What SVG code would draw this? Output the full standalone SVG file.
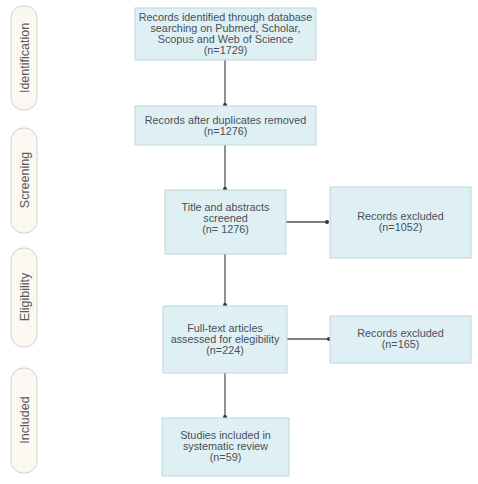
<svg xmlns="http://www.w3.org/2000/svg" width="478" height="484" viewBox="0 0 478 484">
<defs>
<style>
.box{fill:#dff0f5;stroke:#bcd6de;stroke-width:1}
.pill{fill:#fbf7f1;stroke:#d6d2cc;stroke-width:1}
.t{font-family:"Liberation Sans","DejaVu Sans",sans-serif;font-size:10.8px;fill:#4a4f55;text-anchor:middle}
.s{font-family:"Liberation Sans","DejaVu Sans",sans-serif;font-size:12.5px;fill:#5a5a5a;text-anchor:middle}
.c{stroke:#555;stroke-width:1.3;fill:none;marker-end:url(#dot)}
</style>
<marker id="dot" viewBox="0 0 6 6" refX="3" refY="3" markerWidth="4" markerHeight="4" markerUnits="userSpaceOnUse"><circle cx="3" cy="3" r="3" fill="#333"/></marker>
</defs>
<rect width="478" height="484" fill="#ffffff"/>
<g id="stages">
<g id="stage-identification"><rect class="pill" x="11" y="6" width="26" height="104" rx="12"/><text class="s" transform="translate(28.5,58) rotate(-90)">Identification</text></g>
<g id="stage-screening"><rect class="pill" x="11" y="128" width="26" height="105" rx="12"/><text class="s" transform="translate(28.5,180) rotate(-90)">Screening</text></g>
<g id="stage-eligibility"><rect class="pill" x="11" y="248" width="26" height="99" rx="12"/><text class="s" transform="translate(28.5,297) rotate(-90)">Eligibility</text></g>
<g id="stage-included"><rect class="pill" x="11" y="368" width="26" height="105" rx="12"/><text class="s" transform="translate(28.5,420) rotate(-90)">Included</text></g>
</g>
<g id="connectors">
<line class="c" x1="225" y1="60" x2="225" y2="105"/>
<line class="c" x1="225" y1="145" x2="225" y2="189"/>
<line class="c" x1="225" y1="254" x2="225" y2="305"/>
<line class="c" x1="225" y1="373" x2="225" y2="417"/>
<line class="c" x1="286" y1="222" x2="327" y2="222"/>
<line class="c" x1="287" y1="339" x2="329" y2="339"/>
</g>
<g id="n1"><rect class="box" x="135" y="8" width="181" height="52"/>
<text class="t" x="225.5" y="21">Records identified through database</text>
<text class="t" x="225.5" y="32">searching on Pubmed, Scholar,</text>
<text class="t" x="225.5" y="43">Scopus and Web of Science</text>
<text class="t" x="225.5" y="54">(n=1729)</text></g>
<g id="n2"><rect class="box" x="135" y="106" width="181" height="39"/>
<text class="t" x="225.5" y="124">Records after duplicates removed</text>
<text class="t" x="225.5" y="135">(n=1276)</text></g>
<g id="n3"><rect class="box" x="165" y="190" width="121" height="64"/>
<text class="t" x="225.5" y="211">Title and abstracts</text>
<text class="t" x="225.5" y="222">screened</text>
<text class="t" x="225.5" y="233">(n= 1276)</text></g>
<g id="n4"><rect class="box" x="330" y="187" width="141" height="71"/>
<text class="t" x="400.5" y="220">Records excluded</text>
<text class="t" x="400.5" y="231">(n=1052)</text></g>
<g id="n5"><rect class="box" x="163" y="306" width="124" height="67"/>
<text class="t" x="225" y="332">Full-text articles</text>
<text class="t" x="225" y="343">assessed for elegibility</text>
<text class="t" x="225" y="354">(n=224)</text></g>
<g id="n6"><rect class="box" x="330" y="316" width="141" height="47"/>
<text class="t" x="400.5" y="337">Records excluded</text>
<text class="t" x="400.5" y="348">(n=165)</text></g>
<g id="n7"><rect class="box" x="162" y="418" width="127" height="58"/>
<text class="t" x="225.5" y="439">Studies included in</text>
<text class="t" x="225.5" y="450">systematic review</text>
<text class="t" x="225.5" y="461">(n=59)</text></g>
</svg>
